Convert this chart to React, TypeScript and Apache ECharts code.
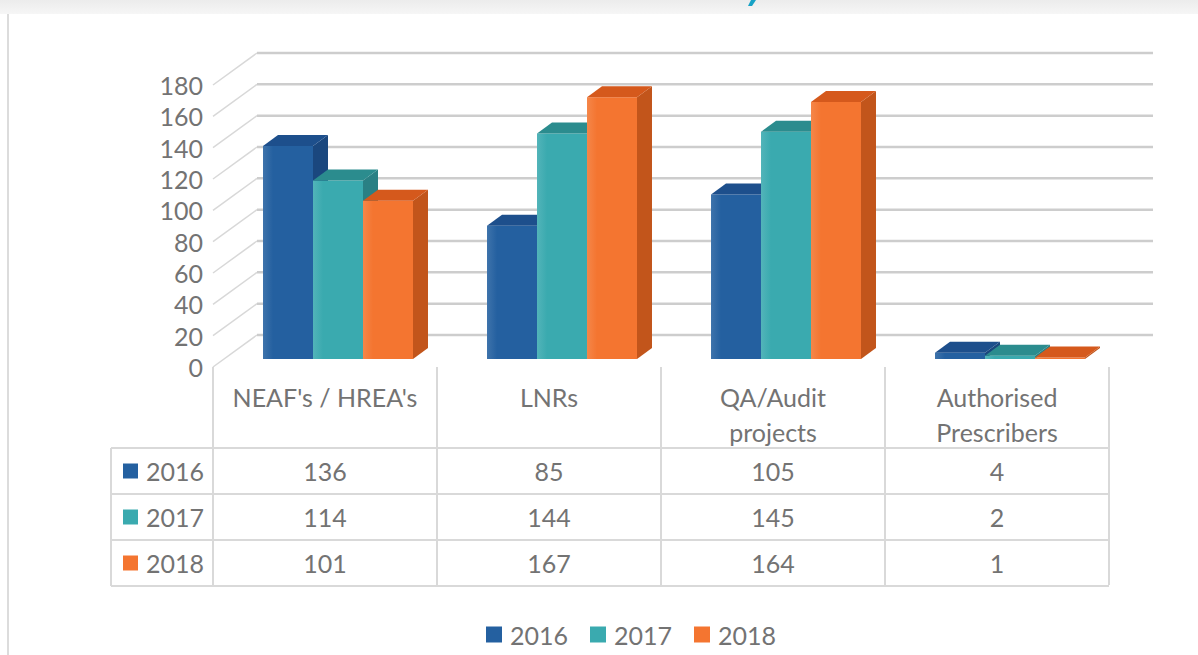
import React, { useEffect, useRef } from 'react';
import * as echarts from 'echarts';

const categories = ["NEAF's / HREA's", 'LNRs', 'QA/Audit\nprojects', 'Authorised\nPrescribers'];
const years = ['2016', '2017', '2018'];
const values2016 = [136, 85, 105, 4];
const values2017 = [114, 144, 145, 2];
const values2018 = [101, 167, 164, 1];
const seriesValues = [values2016, values2017, values2018];
const yTicks = [0, 20, 40, 60, 80, 100, 120, 140, 160, 180];

const FRONT = ['#2460a0', '#3aaaaf', '#f47530'];
const SIDE = ['#1a477e', '#2a8084', '#c2551b'];
const TOP = ['#1d4f8c', '#2b8c8e', '#d5591c'];
const FONT = 'Lato, "Open Sans", sans-serif';
const TEXT = '#737373';
const FS = 25;

const W = 1198;
const H = 655;
const WALL_DX = 44;
const WALL_DY = -32;
const BAR_SHIFT_X = 13;
const BAR_SHIFT_Y = -8;
const BAR_DX = 15;
const BAR_DY = -11;
const TABLE_LEFT = 111;
const TABLE_TOP = 448;
const ROW_H = 46;

function lighten(hex: string, amt: number) {
  const n = parseInt(hex.slice(1), 16);
  let r = (n >> 16) & 255, g = (n >> 8) & 255, b = n & 255;
  r = Math.round(r + (255 - r) * amt);
  g = Math.round(g + (255 - g) * amt);
  b = Math.round(b + (255 - b) * amt);
  return `rgb(${r},${g},${b})`;
}

function renderWall(params: any, api: any) {
  const cs = params.coordSys;
  const y = api.coord([0, api.value(1)])[1];
  const x0 = cs.x;
  const x1 = cs.x + cs.width;
  return {
    type: 'group',
    children: [
      { type: 'line', shape: { x1: x0, y1: y, x2: x0 + WALL_DX, y2: y + WALL_DY }, style: { stroke: '#d8d8d8', lineWidth: 1.5 } },
      { type: 'line', shape: { x1: x0 + WALL_DX, y1: y + WALL_DY, x2: x1 + WALL_DX, y2: y + WALL_DY }, style: { stroke: '#cdcdcd', lineWidth: 2.5 } },
    ],
  };
}

const makeBarRenderer = (s: number) => (params: any, api: any) => {
  const ci = api.value(0);
  const v = api.value(1);
  const base = api.coord([ci, 0]);
  const top = api.coord([ci, v]);
  const band = api.size([1, 0])[0];
  const bw = band * 0.2232;
  const x = base[0] - bw * 1.5 + bw * s + BAR_SHIFT_X;
  const yb = base[1] + BAR_SHIFT_Y;
  const yt = top[1] + BAR_SHIFT_Y;
  const frontFill = new echarts.graphic.LinearGradient(0, 0, 1, 0, [
    { offset: 0, color: lighten(FRONT[s], 0.12) },
    { offset: 0.2, color: FRONT[s] },
    { offset: 1, color: FRONT[s] },
  ]);
  return {
    type: 'group',
    children: [
      { type: 'rect', shape: { x, y: yt, width: bw, height: yb - yt }, style: { fill: frontFill } },
      {
        type: 'polygon',
        shape: { points: [[x + bw, yt], [x + bw + BAR_DX, yt + BAR_DY], [x + bw + BAR_DX, yb + BAR_DY], [x + bw, yb]] },
        style: { fill: SIDE[s] },
      },
      {
        type: 'polygon',
        shape: { points: [[x, yt], [x + BAR_DX, yt + BAR_DY], [x + bw + BAR_DX, yt + BAR_DY], [x + bw, yt]] },
        style: { fill: TOP[s] },
      },
    ],
  };
};

export default function App() {
  const ref = useRef<HTMLDivElement>(null);
  useEffect(() => {
    if (!ref.current) return;
    const chart = echarts.init(ref.current, undefined, { renderer: 'svg' });
    const option: any = {
      animation: false,
      backgroundColor: '#ffffff',
      color: FRONT,
      grid: { left: 213, right: 89, top: 85, bottom: 288, containLabel: false },
      xAxis: {
        type: 'category',
        data: categories,
        axisLine: { show: false },
        axisTick: { show: true, length: 218, lineStyle: { color: '#d9d9d9', width: 2 } },
        axisLabel: { interval: 0, margin: 12, fontSize: FS, lineHeight: 35, color: TEXT, fontFamily: FONT },
        splitLine: { show: false },
      },
      yAxis: {
        type: 'value',
        min: 0,
        max: 180,
        interval: 20,
        axisLine: { show: false },
        axisTick: { show: false },
        splitLine: { show: false },
        axisLabel: { margin: 10, fontSize: FS, color: TEXT, fontFamily: FONT },
      },
      legend: {
        data: years,
        top: 622,
        left: 486,
        padding: 0,
        icon: 'rect',
        itemWidth: 16,
        itemHeight: 16,
        itemGap: 22,
        textStyle: { fontSize: FS, color: TEXT, fontFamily: FONT, padding: [0, 0, 0, 3] },
      },
      series: [
        {
          type: 'custom',
          name: 'walls',
          renderItem: renderWall,
          data: yTicks.map((v) => [0, v]),
          encode: { x: 0, y: 1 },
          silent: true,
          z: 1,
        },
        ...years.map((yr, s) => ({
          type: 'custom',
          name: yr,
          renderItem: makeBarRenderer(s),
          data: seriesValues[s].map((v, i) => [i, v]),
          encode: { x: 0, y: 1 },
          itemStyle: { color: FRONT[s] },
          z: 2,
        })),
      ],
    };
    chart.setOption(option);

    const gridRight = W - 89;
    const graphics: any[] = [
      {
        type: 'rect',
        shape: { x: 0, y: 0, width: W, height: 14 },
        style: {
          fill: new echarts.graphic.LinearGradient(0, 0, 0, 1, [
            { offset: 0, color: '#ececec' },
            { offset: 1, color: '#f6f6f6' },
          ]),
        },
        silent: true,
      },
      { type: 'line', shape: { x1: 8, y1: 14, x2: 8, y2: H }, style: { stroke: '#dcdcdc', lineWidth: 2 } },
      { type: 'polygon', shape: { points: [[751, 0], [756, 0], [752, 6], [748, 6]] }, style: { fill: '#17a2c6' } },
      { type: 'line', shape: { x1: TABLE_LEFT, y1: TABLE_TOP, x2: TABLE_LEFT, y2: TABLE_TOP + ROW_H * 3 }, style: { stroke: '#d9d9d9', lineWidth: 2 } },
    ];
    for (let r = 0; r <= 3; r++) {
      const y = TABLE_TOP + ROW_H * r;
      graphics.push({ type: 'line', shape: { x1: TABLE_LEFT, y1: y, x2: gridRight, y2: y }, style: { stroke: '#d9d9d9', lineWidth: 2 } });
    }
    years.forEach((yr, s) => {
      const cy = TABLE_TOP + ROW_H * s + ROW_H / 2;
      graphics.push({ type: 'rect', shape: { x: 123, y: cy - 7.5, width: 15, height: 15 }, style: { fill: FRONT[s] } });
      graphics.push({
        type: 'text',
        x: 146,
        y: cy,
        style: { text: yr, fill: TEXT, fontSize: FS, fontFamily: FONT, align: 'left', verticalAlign: 'middle' },
      });
      seriesValues[s].forEach((v, i) => {
        const cx = chart.convertToPixel({ xAxisIndex: 0 }, i) as unknown as number;
        graphics.push({
          type: 'text',
          x: cx,
          y: cy,
          style: { text: String(v), fill: TEXT, fontSize: FS, fontFamily: FONT, align: 'center', verticalAlign: 'middle' },
        });
      });
    });
    chart.setOption({ graphic: graphics });
    return () => chart.dispose();
  }, []);
  return (
    <div
      ref={ref}
      style={{ position: 'absolute', left: 0, top: 0, width: W, height: H, background: '#fff' }}
    />
  );
}
